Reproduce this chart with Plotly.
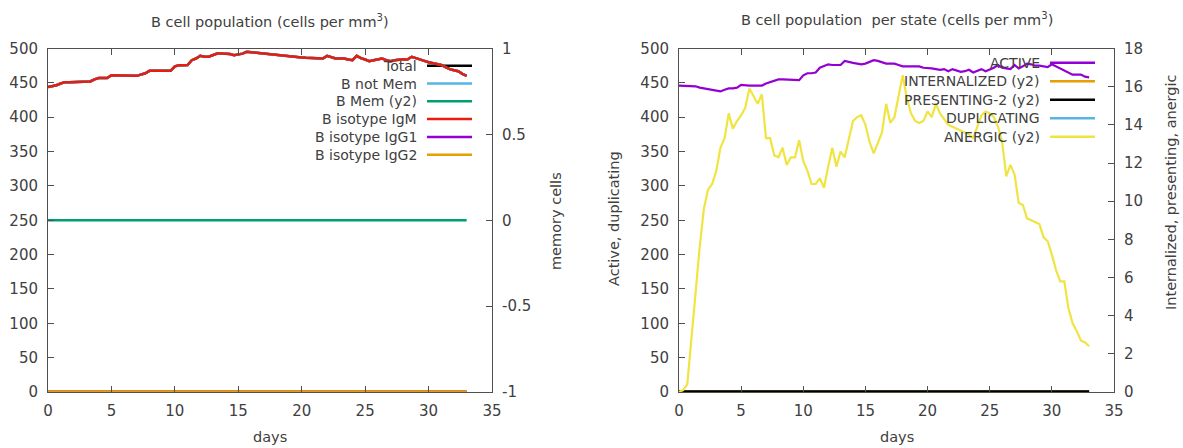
import plotly.graph_objects as go

W, H = 1183, 448

# ---------------- data ----------------
# time grid: C-ImmSim steps of 8 hours (1/3 day), days 0..33
days = [round(i / 3, 3) for i in range(100)]

igm = [444, 445, 446.5, 449, 451, 451, 451, 451, 451, 451,
       452, 455, 457, 457, 457, 461, 461, 461.5, 461.5, 461,
       460.5, 460.2, 462, 464, 467.5, 467.5, 467.5, 467.5, 467.5, 467.5,
       474, 475.7, 475.7, 476, 483, 485.4, 489.4, 488, 488, 490,
       492.7, 492.7, 492.7, 492, 490.2, 491, 492.5, 495.2, 494.5, 494,
       493, 492.5, 492.7, 491.5, 490.5, 490, 489.3, 489, 488, 487.5,
       487, 486.4, 486.4, 486, 486, 485.4, 489.3, 487, 485.4, 485.4,
       485.4, 484, 483, 489.3, 486, 484, 481.5, 483, 484.5, 485.4,
       483, 481.5, 483, 484, 484.4, 484, 487.9, 486, 484.4, 482,
       480, 479, 477.5, 476, 473, 470, 468.4, 467, 463, 460.2]
total = list(igm)
b_not_mem = list(igm)
b_mem = [0] * len(days)
igg1 = [0] * len(days)
igg2 = [0] * len(days)

active = [446, 446, 446, 446, 445, 443, 442, 440, 439, 438,
          437.5, 440, 442, 442, 443, 447, 446, 446, 446, 446,
          446, 449, 451, 453, 455, 455, 455, 455, 455, 454,
          461, 464, 464, 465, 472, 474, 477, 476, 476, 476,
          482, 480, 479, 478, 477, 478, 480, 483, 482, 480,
          478, 478, 478, 476, 474, 474, 474, 473, 474, 472,
          472, 471, 470, 469, 470, 467, 470, 468, 466, 467,
          469, 465, 468, 470, 467, 469, 472, 476, 472, 471,
          470, 476, 471, 474, 478, 477, 475, 475, 474, 473,
          477, 474, 471, 468, 465, 462, 462, 462, 459, 458]
internalized = [0] * len(days)
presenting2 = [0] * len(days)
duplicating = [0] * len(days)
anergic = [0, 0.1, 0.4, 2.8, 5.4, 7.6, 9.6, 10.6, 10.9, 11.6,
           12.8, 13.3, 14.6, 13.8, 14.2, 14.5, 14.9, 15.9, 15.5, 15.1,
           15.6, 13.3, 13.3, 12.4, 12.3, 12.8, 11.9, 12.3, 12.3, 13.2,
           12.1, 11.6, 10.9, 10.9, 11.2, 10.7, 11.8, 12.8, 11.8, 12.6,
           12.3, 13.3, 14.2, 14.4, 14.5, 14.0, 13.1, 12.5, 13.1, 13.6,
           15.1, 14.1, 14.4, 15.6, 16.6, 15.4, 14.6, 14.2, 14.1, 14.2,
           14.7, 14.4, 15.1, 14.6, 14.3, 14.0, 13.9, 13.8, 13.7, 13.6,
           13.5, 13.3, 13.9, 14.5, 14.7, 14.6, 14.4, 13.9, 13.1, 11.3,
           11.9, 11.4, 9.9, 9.8, 9.1, 9.0, 8.9, 8.8, 8.1, 7.9,
           7.2, 6.4, 5.8, 5.8, 4.4, 3.6, 3.2, 2.7, 2.6, 2.4]

x_ticks = [0, 5, 10, 15, 20, 25, 30, 35]
y_ticks = [0, 50, 100, 150, 200, 250, 300, 350, 400, 450, 500]
mem_ticks = [-1, -0.5, 0, 0.5, 1]
mem_labels = ["-1", "-0.5", "0", "0.5", "1"]
y4_ticks = [0, 2, 4, 6, 8, 10, 12, 14, 16, 18]

left_series = [
    ("Total", total, "#000000", "y"),
    ("B not Mem", b_not_mem, "#56b4e9", "y"),
    ("B Mem (y2)", b_mem, "#009e73", "y2"),
    ("B isotype IgM", igm, "#e51e10", "y"),
    ("B isotype IgG1", igg1, "#9400d3", "y"),
    ("B isotype IgG2", igg2, "#e69f00", "y"),
]
right_series = [
    ("ACTIVE", active, "#9400d3", "y3"),
    ("INTERNALIZED (y2)", internalized, "#e69f00", "y4"),
    ("PRESENTING-2 (y2)", presenting2, "#000000", "y4"),
    ("DUPLICATING", duplicating, "#56b4e9", "y3"),
    ("ANERGIC (y2)", anergic, "#f0e442", "y4"),
]

# ---------------- style ----------------
FONT = "DejaVu Sans"
TXT = "#404040"
AX = "#505050"
FS = 15


def px(x):
    return x / W


def py(y):
    return 1 - y / H


fig = go.Figure()

for name, vals, col, ax in left_series:
    w = 2.5 if (max(vals) > 0 or ax == "y2") else 3.5
    fig.add_trace(go.Scatter(x=days, y=vals, name=name, mode="lines",
                             line=dict(color=col, width=w),
                             xaxis="x", yaxis=ax, showlegend=False))
for name, vals, col, ax in right_series:
    w = 2.2 if max(vals) > 0 else 3.5
    fig.add_trace(go.Scatter(x=days, y=vals, name=name, mode="lines",
                             line=dict(color=col, width=w),
                             xaxis="x2", yaxis=ax, showlegend=False))

L_dom = [px(48), px(492)]
R_dom = [px(679), px(1114)]
Y_dom = [py(392), py(48.5)]

common_x = dict(range=[0, 35], tickvals=x_ticks, ticks="inside", ticklen=6,
                tickcolor=AX, showline=True, linecolor=AX, linewidth=1,
                mirror="ticks", showgrid=False, zeroline=False,
                automargin=False,
                tickfont=dict(family=FONT, size=FS, color=TXT),
                ticklabelstandoff=5)
common_y = dict(ticks="inside", ticklen=6, tickcolor=AX, showline=True,
                linecolor=AX, linewidth=1, showgrid=False, zeroline=False,
                automargin=False,
                tickfont=dict(family=FONT, size=FS, color=TXT),
                ticklabelstandoff=6)

fig.update_layout(
    width=W, height=H, autosize=False,
    margin=dict(l=0, r=0, t=0, b=0, pad=0),
    paper_bgcolor="white", plot_bgcolor="white",
    showlegend=False,
    xaxis=dict(domain=L_dom, anchor="y", **common_x),
    yaxis=dict(domain=Y_dom, anchor="x", range=[0, 500], tickvals=y_ticks, **common_y),
    yaxis2=dict(overlaying="y", side="right", anchor="x", range=[-1, 1],
                tickvals=mem_ticks, ticktext=mem_labels, **common_y),
    xaxis2=dict(domain=R_dom, anchor="y3", **common_x),
    yaxis3=dict(domain=Y_dom, anchor="x2", range=[0, 500], tickvals=y_ticks, **common_y),
    yaxis4=dict(overlaying="y3", side="right", anchor="x2", range=[0, 18],
                tickvals=y4_ticks, **common_y),
)

annos = []
shapes = []


def text(x, y, s, anchor="center", angle=0, size=14.5):
    annos.append(dict(x=px(x), y=py(y), xref="paper", yref="paper", text=s,
                      showarrow=False, xanchor=anchor, yanchor="middle",
                      textangle=angle,
                      font=dict(family=FONT, size=size, color=TXT)))


# titles
text(270, 21, "B cell population (cells per mm<sup>3</sup>)")
text(897, 19, "B cell population \u00a0per state (cells per mm<sup>3</sup>)")
# axis titles
text(270, 437, "days")
text(897, 437, "days")
text(556, 221, "memory cells", angle=-90)
text(614, 219, "Active, duplicating", angle=-90)
text(1171, 192, "Internalized, presenting, anergic", angle=-90)

# keys (gnuplot style: right-justified text, sample line on the right)
for i, (name, vals, col, ax) in enumerate(left_series):
    yy = 65.7 + i * 17.8
    text(419, yy, name, anchor="right", size=14)
    shapes.append(dict(type="line", xref="paper", yref="paper", layer="below",
                       x0=px(427), x1=px(472), y0=py(yy), y1=py(yy),
                       line=dict(color=col, width=2.5)))
for i, (name, vals, col, ax) in enumerate(right_series):
    yy = 62.7 + i * 18.5
    text(1042, yy, name, anchor="right", size=14)
    shapes.append(dict(type="line", xref="paper", yref="paper", layer="below",
                       x0=px(1050), x1=px(1095), y0=py(yy), y1=py(yy),
                       line=dict(color=col, width=2.5)))

fig.update_layout(annotations=annos, shapes=shapes)
fig.write_html("out.html",
               config={"displayModeBar": False},
               post_script="document.body.style.margin='0';"
                           "document.body.style.overflow='hidden';")
